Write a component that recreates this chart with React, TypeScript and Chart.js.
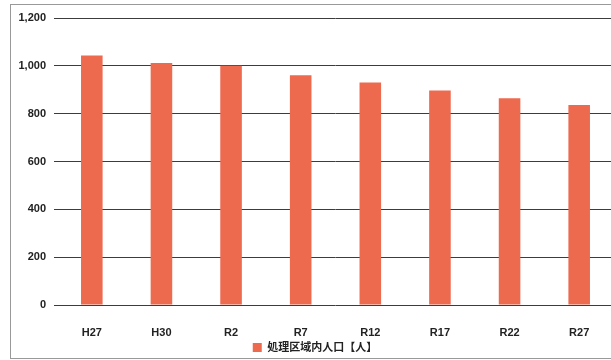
import React, { useEffect, useRef } from "react";
import { Chart, registerables } from "chart.js";

Chart.register(...registerables);

const categories = ["H27", "H30", "R2", "R7", "R12", "R17", "R22", "R27"];
const population = [1043, 1012, 1000, 961, 930, 897, 864, 836];
const seriesLabel = "処理区域内人口【人】";
const yTicks = [0, 200, 400, 600, 800, 1000, 1200];

const BAR_COLOR = "#EE6A4F";
const FONT = "'Liberation Sans', 'Noto Sans CJK JP', Arial, sans-serif";

export default function App() {
  const ref = useRef<HTMLCanvasElement | null>(null);

  useEffect(() => {
    if (!ref.current) return;
    const chart = new Chart(ref.current, {
      type: "bar",
      data: {
        labels: categories,
        datasets: [
          {
            label: seriesLabel,
            data: population,
            backgroundColor: BAR_COLOR,
            borderWidth: 0,
            barPercentage: 0.31,
            categoryPercentage: 1,
          },
        ],
      },
      options: {
        animation: false,
        responsive: false,
        devicePixelRatio: 1,
        layout: { padding: { top: 18, left: 16, right: 0, bottom: 0 } },
        plugins: {
          tooltip: { enabled: false },
          legend: {
            position: "bottom",
            maxHeight: 22,
            labels: {
              boxWidth: 9,
              boxHeight: 9,
              padding: 4,
              color: "#222",
              font: { family: FONT, size: 11, weight: "bold" },
            },
          },
        },
        scales: {
          x: {
            afterFit: (scale: any) => {
              scale.height = 33;
            },
            grid: { display: false, drawTicks: false },
            border: { display: false },
            ticks: {
              padding: 21,
              color: "#222",
              font: { family: FONT, size: 11, weight: "bold" },
            },
          },
          y: {
            min: 0,
            max: 1200,
            afterFit: (scale: any) => {
              scale.width = 41;
            },
            afterBuildTicks: (scale: any) => {
              scale.ticks = yTicks.map((v) => ({ value: v }));
            },
            grid: { color: "#3c3c3c", lineWidth: 1, tickLength: 3, drawTicks: true },
            border: { display: false },
            ticks: {
              padding: 8,
              color: "#222",
              font: { family: FONT, size: 11, weight: "bold" },
              callback: (v: any) => Number(v).toLocaleString("en-US"),
            },
          },
        },
      },
    });
    return () => chart.destroy();
  }, []);

  return (
    <div
      style={{
        position: "fixed",
        left: 0,
        top: 0,
        width: 611,
        height: 360,
        overflow: "hidden",
        background: "#fff",
      }}
    >
      <div
        style={{
          position: "absolute",
          left: 10,
          top: 4,
          width: 700,
          height: 353,
          border: "1px solid #999",
        }}
      />
      <canvas
        ref={ref}
        width={614}
        height={360}
        style={{ position: "absolute", left: 0, top: 0, width: 614, height: 360 }}
      />
    </div>
  );
}
